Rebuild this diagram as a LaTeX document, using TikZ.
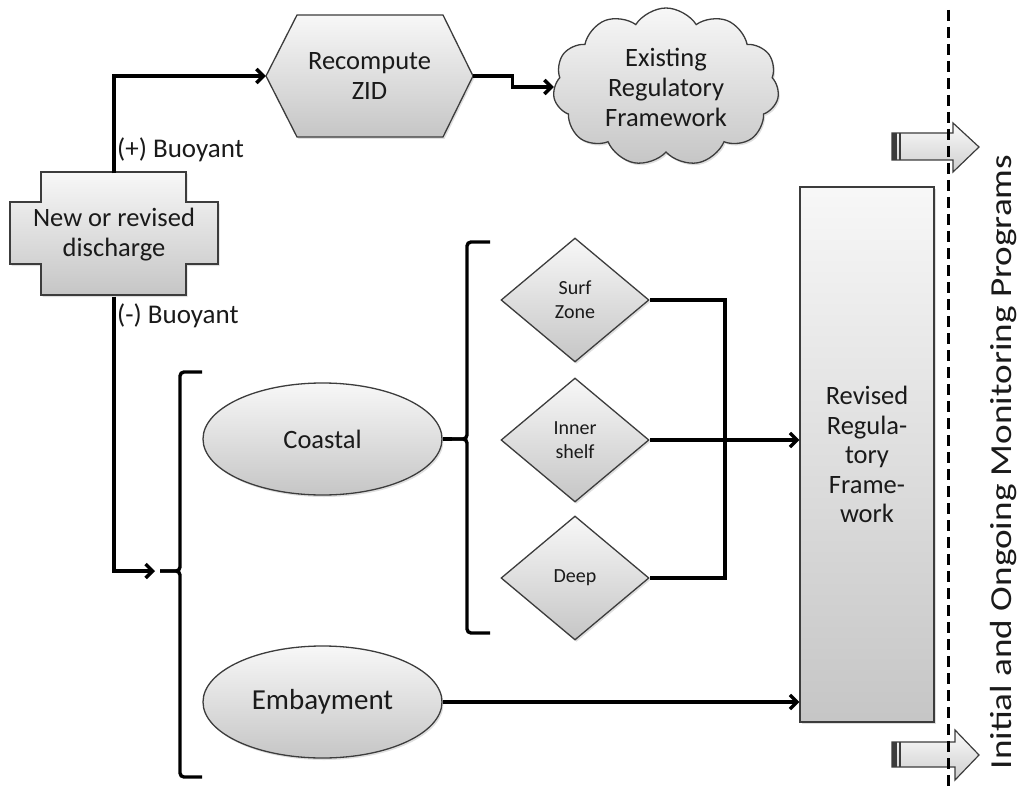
\documentclass[tikz,border=0pt]{standalone}
\usepackage{fontspec}
\usepackage{graphicx}
\setmainfont{Carlito}
\usetikzlibrary{shapes.geometric,shapes.symbols,arrows.meta,calc,shadows}
\definecolor{edge}{HTML}{3C3C3C}
\definecolor{ink}{HTML}{1A1A1A}
\begin{document}
\begin{tikzpicture}[x=1pt,y=-1pt,
  shapefill/.style={draw=edge, line width=1.3pt, top color=gray!6, bottom color=gray!45,
    drop shadow={opacity=0.25, shadow xshift=1.5pt, shadow yshift=-2pt}},
  lbl/.style={font=\fontsize{26.5}{30}\selectfont, text=ink, inner sep=0pt, align=center},
  small/.style={font=\fontsize{20}{24}\selectfont, text=ink, inner sep=0pt, align=center},
  diam/.style={shapefill, small, diamond, minimum width=148pt, minimum height=124pt},
  ell/.style={shapefill, lbl, ellipse, minimum width=239pt, minimum height=112pt},
  cloudbox/.style={shapefill, lbl, cloud, cloud puffs=11, cloud puff arc=115, aspect=1.4, minimum width=226pt, minimum height=158pt},
  revbox/.style={shapefill, font=\fontsize{26.5}{29.5}\selectfont, text=ink, align=center, rectangle, minimum width=134pt, minimum height=535pt, inner sep=0pt},
  conn/.style={line width=3.4pt, black},
  tip/.style={-{Straight Barb[length=7pt,width=14pt]}},
  blockarrow/.style={draw=edge, line width=1.2pt, top color=gray!4, bottom color=gray!38},
  tag/.style={font=\fontsize{27}{30}\selectfont, text=ink, inner sep=0pt, anchor=base west}
]
\useasboundingbox (0,0) rectangle (1024,786);

% new or revised discharge (cross shape)
\draw[shapefill] (41,172) -- (186,172) -- (186,202) -- (218,202) -- (218,264) -- (186,264) -- (186,295) -- (41,295) -- (41,264) -- (10,264) -- (10,202) -- (41,202) -- cycle;
\node[lbl, minimum width=208pt, minimum height=123pt] (disc) at (114,235) {New or revised\\discharge};

% recompute ZID (hexagon)
\draw[shapefill] (266,76) -- (297,15) -- (443,15) -- (473,76) -- (443,137) -- (297,137) -- cycle;
\node[lbl, minimum width=207pt, minimum height=122pt] (zid) at (369.5,76) {Recompute\\ZID};

% cloud
\node[cloudbox] (cloud) at (666,87) {Existing\\Regulatory\\Framework};

% labels
\node[tag] (plus) at (117,158) {(+) Buoyant};
\node[tag] (minus) at (117,323) {(-) Buoyant};

% ellipses
\node[ell] (coastal) at (322.5,439) {Coastal};
\node[ell, font=\fontsize{29}{32}\selectfont] (emb) at (322.5,702) {Embayment};

% diamonds
\node[diam] (surf) at (575,300) {Surf\\Zone};
\node[diam] (inner) at (575,440) {Inner\\shelf};
\node[diam] (deep) at (575,578) {Deep};

% revised box
\node[revbox] (rev) at (867,454.5) {Revised\\Regula-\\tory\\Frame-\\work};

% connectors
\draw[conn,tip] (disc.north) |- (zid.west);
\draw[conn,tip] (zid.east) -- ++(39,0) |- (cloud.west);

\coordinate (b1) at (160,571);
\draw[conn, rounded corners=4pt] (202,372) -- (180,372) -- (180,571) -- (b1);
\draw[conn, rounded corners=4pt] (202,777) -- (180,777) -- (180,571) -- (b1);
\draw[conn,tip,shorten >=5pt] (disc.south) |- (b1);

\coordinate (b2) at (452,439);
\draw[conn, rounded corners=4pt] (490,242) -- (467,242) -- (467,439) -- (b2);
\draw[conn, rounded corners=4pt] (490,633) -- (467,633) -- (467,439) -- (b2);
\draw[conn] (coastal.east) -- (b2);

\coordinate (jx) at (725,0);
\draw[conn] (surf.east) -| (jx |- deep.east) -- (deep.east);
\draw[conn,tip] (inner.east) -- (inner.east -| rev.west);
\draw[conn,tip] (emb.east) -- (emb.east -| rev.west);

% block arrows
\draw[blockarrow] (892,133) -- (953,133) -- (953,123) -- (979,147) -- (953,172) -- (953,160) -- (892,160) -- cycle;
\fill[edge] (892,133) rectangle (897,160);
\fill[edge] (898.5,133) rectangle (900.5,160);
\draw[blockarrow] (892,742) -- (955,742) -- (955,730) -- (979,755) -- (955,780) -- (955,767) -- (892,767) -- cycle;
\fill[edge] (892,742) rectangle (897,767);
\fill[edge] (898.5,742) rectangle (900.5,767);

% dashed divider
\draw[line width=3pt, dash pattern=on 11pt off 6pt] (948,10) -- (948,786);

% rotated title
\node[rotate=90, anchor=base, font=\fontsize{30.5}{36}\selectfont, text=ink, inner sep=0pt] (mon) at (1011,462) {\scalebox{1.22}[1]{Initial and Ongoing Monitoring Programs}};
\end{tikzpicture}
\end{document}
